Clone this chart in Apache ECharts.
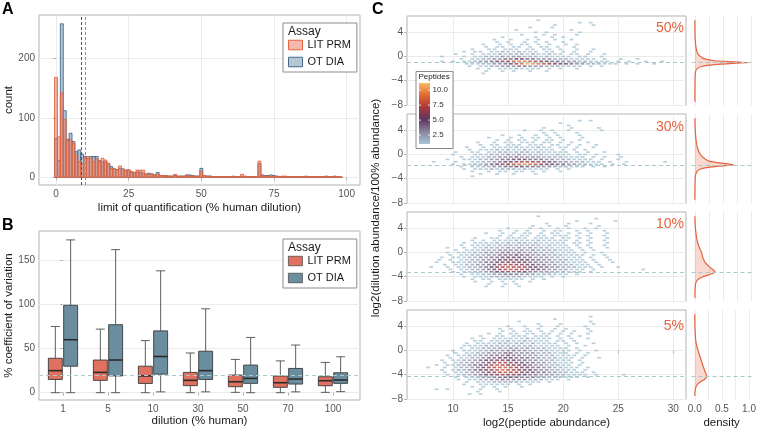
<!DOCTYPE html>
<html>
<head>
<meta charset="utf-8">
<style>
  html, body { margin: 0; padding: 0; background: #fff; }
  #chart { width: 759px; height: 431px; }
</style>
<script src="https://cdn.jsdelivr.net/npm/echarts@6/dist/echarts.min.js"></script>
</head>
<body>
<div id="chart"></div>
<script>
// ---- panel A: limit of quantification histogram (binwidth 1, bins 0..98)
var litPrmLoq = [168,68,142,97,62,63,57,37,26,22,32,35,32,26,31,26,32,29,24,15,15,12,19,14,12,13,10,8,12,12,
  12,6,5,6,4,5,3,3,3,2,2,5,2,2,2,3,2,2,2,2,10,3,2,2,1,1,1,1,1,1,1,2,1,1,5,2,1,1,1,1,
  27,3,2,2,2,2,1,1,2,2,1,1,1,1,1,1,2,1,1,1,1,1,1,1,1,1,1,1,1];
var otDiaLoq = [65,28,258,112,64,74,60,43,46,39,35,32,35,35,35,28,26,26,22,18,14,13,15,14,12,11,9,8,9,8,
  7,5,7,5,4,8,3,3,2,2,2,3,2,2,2,4,4,3,2,2,15,3,2,2,1,1,1,1,1,1,1,1,1,1,1,1,1,1,1,1,
  23,4,3,3,4,3,2,1,1,1,1,1,1,1,1,1,1,1,1,1,1,1,1,2,1,1,2,1,0];
var loqMedians = [8.8, 10.2]; // OT DIA, LIT PRM
var loqTicks = [0, 25, 50, 75, 100];
var countTicks = [0, 100, 200];

// ---- panel B: CV boxplots [low, q1, median, q3, high]
var dilutions = ['1', '5', '10', '30', '50', '70', '100'];
var litPrmCv = [[0,15,25,39,75],[0,14,23,37,72],[0,10.5,19,30,59],[0,8,14,23,45],[0.4,6.8,12.4,20,37.7],[0,6.1,11.3,18.9,36],[0.4,7.9,13.6,18.1,34.3]];
var otDiaCv = [[0,30,60,99,173],[0,19,37,77,162],[1,21,41,70,138],[1,15,25,47,95],[0,10.6,16.2,31.3,62.6],[1,9.8,15.5,27.5,54],[1.2,10.6,14.4,22.6,40.7]];
var cvTicks = [0, 50, 100, 150];
var cvTarget = 20;

// ---- panel C: hexbin counts, rows of [y, x0, count at x0, x0+0.5, x0+1, ...]
var hex50 = [
  [6.0, 17.5, 1],
  [5.6, 21.5, 1,0,1],
  [5.2, 19, 1,0,0,0,0,0,0,1],
  [4.8, 17, 1,0,0,0,1],
  [4.4, 15.5, 1,0,0,0,0,0,0,0,0,0,1],
  [4.0, 17.5, 1,0,1,0,0,0,0,0,1],
  [3.6, 16, 1,0,0,0,1,0,1,0,0,0,1],
  [3.2, 14.5, 1,0,0,0,0,0,1,0,0,1,0,1],
  [2.8, 13.5, 1,0,0,1,0,0,1,0,1,0,0,1,0,0,1],
  [2.4, 14, 1,0,1,0,0,1,0,1,0,1,0,0,1],
  [2.0, 12.5, 1,0,0,1,0,1,0,1,1,0,1,0,1,0,0,1,0,1],
  [1.6, 13, 1,0,1,1,0,1,1,0,1,0,1,1,0,1,0,0,1],
  [1.2, 11.5, 1,0,0,1,1,0,1,1,1,0,1,1,0,1,1,0,1,0,0,1,0,0,1],
  [0.8, 11, 1,0,1,1,0,1,1,2,1,1,2,1,1,1,0,1,1,0,1,0,1,0,0,1],
  [0.4, 10, 1,0,0,1,0,1,1,1,2,1,2,2,2,1,2,1,1,2,1,1,0,1,1,0,1,0,0,1],
  [0.0, 9, 1,0,0,0,1,0,1,1,2,2,2,3,2,3,3,2,2,2,1,2,1,1,1,1,0,1,1,0,0,1],
  [-0.4, 10.5, 1,0,1,1,2,2,3,3,4,4,5,5,4,4,3,3,3,2,2,2,1,1,1,1,1,0,1,0,0,1,0,0,1],
  [-0.8, 9, 1,0,1,0,1,1,2,3,3,4,5,6,7,8,9,9,8,7,6,5,4,4,3,3,3,2,2,1,1,1,1,0,1,0,1,0,0,1,0,0,1],
  [-1.2, 11, 1,1,1,2,2,3,3,4,5,7,9,11,10,9,8,7,6,5,5,4,3,3,2,2,2,1,1,1,0,1,0,1,0,0,1],
  [-1.6, 11.5, 1,0,1,1,2,2,3,3,3,4,4,3,3,3,2,2,2,1,1,1,1,0,1,0,1],
  [-2.0, 12, 1,0,1,0,1,1,1,2,1,1,1,1,0,1,0,1,0,0,1],
  [-2.4, 13, 1,0,0,1,0,1,0,0,1,0,0,1],
  [-2.8, 12.5, 1]
];
var hex30 = [
  [5.6, 21.5, 1,0,1],
  [5.2, 19.5, 1],
  [4.8, 20.5, 1],
  [4.4, 18, 1,0,0,0,0,1,0,0,0,0,1],
  [4.0, 16.5, 1,0,0,1,0,1,0,0,1,0,0,0,0,0,1],
  [3.6, 18, 1,0,1,0,0,0,1],
  [3.2, 14.5, 1,0,0,1,0,0,1,0,1,0,1,0,0,0,1],
  [2.8, 13, 1,0,0,0,1,0,1,0,1,1,0,1,0,1,0,0,0,1],
  [2.4, 14, 1,0,1,0,1,1,0,1,0,1,1,0,1,0,0,1],
  [2.0, 12, 1,0,0,1,0,1,1,0,1,1,1,0,1,1,0,1,0,1,0,0,1],
  [1.6, 12.5, 1,0,1,1,0,1,1,1,0,1,1,1,0,1,1,0,1,0,1,0,0,1],
  [1.2, 11, 1,0,0,1,0,1,1,1,1,2,1,1,1,2,1,1,0,1,1,0,1,0,0,1],
  [0.8, 11.5, 1,0,1,1,1,2,1,2,1,1,2,1,1,1,1,1,0,1,0,1,0,1],
  [0.4, 10, 1,0,0,1,1,0,1,1,2,2,1,2,2,2,1,2,1,1,1,1,1,0,1,0,1,0,0,1],
  [0.0, 10, 1,0,0,0,1,1,1,2,2,2,3,2,3,2,2,2,2,1,1,2,1,1,0,1,1,0,1,0,0,0,1],
  [-0.4, 10.5, 1,0,1,1,1,2,2,3,3,3,4,3,3,3,3,2,2,2,2,1,1,1,1,0,1,0,1,0,0,1],
  [-0.8, 9.5, 1,0,0,1,1,1,2,2,3,3,4,4,5,5,5,4,4,4,3,3,2,2,2,1,1,1,1,0,1,0,0,1],
  [-1.2, 8, 1,0,0,0,1,0,0,1,1,2,2,3,4,5,5,6,7,7,6,6,5,5,4,3,3,2,2,2,1,1,1,0,1,0,0,1,0,0,0,0,0,0,1],
  [-1.6, 10, 1,0,1,1,2,2,3,4,5,6,7,8,9,10,9,8,7,6,5,4,4,3,3,2,2,1,1,1,0,1,0,1],
  [-2.0, 10.5, 1,0,1,1,2,2,3,3,4,4,5,5,4,4,4,3,3,2,2,2,1,1,1,0,1,0,1],
  [-2.4, 11, 1,0,1,1,1,2,1,2,2,2,1,2,1,1,1,1,0,1,0,1],
  [-2.8, 11.5, 1,0,0,1,0,1,1,0,1,1,0,1,0,1,0,0,1],
  [-3.2, 12.5, 1,0,0,1,0,0,1,0,0,0,1],
  [-3.6, 11.5, 1]
];
var hex10 = [
  [6.0, 17.5, 1],
  [5.6, 23, 1],
  [5.2, 21, 1,0,0,0,0,0,0,1],
  [4.8, 18.5, 1,0,0,0,1,0,0,0,1],
  [4.4, 17, 1,0,0,1,0,0,1,0,0,0,0,0,1],
  [4.0, 15, 1,0,0,0,1,0,1,0,0,1,0,1,0,0,1,0,1],
  [3.6, 14, 1,0,0,1,0,1,0,0,1,0,1,1,0,0,1,0,1,0,0,1],
  [3.2, 13, 1,0,0,1,0,1,0,1,1,0,1,0,1,1,0,1,0,1,0,1,0,0,1],
  [2.8, 14, 1,0,1,0,1,1,0,1,1,0,1,1,1,0,1,0,1,0,0,1],
  [2.4, 12, 1,0,0,1,1,0,1,1,1,1,0,1,1,1,1,0,1,1,0,1,0,1,0,0,1],
  [2.0, 11.5, 1,0,1,0,1,1,1,1,2,1,1,1,2,1,1,1,1,1,0,1,0,1,0,0,1],
  [1.6, 11, 1,0,1,1,1,1,2,1,2,1,2,2,1,2,1,1,1,1,1,0,1,1,0,1,0,0,1],
  [1.2, 10.5, 1,0,1,1,1,2,1,2,2,2,2,2,2,2,2,1,2,1,1,1,0,1,0,1,0,0,1],
  [0.8, 9.5, 1,0,0,1,0,1,1,2,2,2,2,3,2,3,2,3,2,2,2,1,1,1,1,0,1,0,1,0,0,1],
  [0.4, 10, 1,0,1,1,1,2,2,2,3,3,3,3,3,2,3,2,2,2,2,1,1,1,0,1,0,1],
  [0.0, 9.5, 1,0,1,1,1,2,2,3,3,3,4,4,3,4,3,3,3,2,2,2,1,1,1,1,0,1,0,0,1],
  [-0.4, 9.5, 1,0,1,1,2,2,2,3,3,4,4,4,5,4,4,3,3,3,2,2,2,1,1,1,1,0,1,0,1],
  [-0.8, 9, 1,0,1,1,1,2,2,3,3,4,4,5,5,5,5,4,4,3,3,3,2,2,1,1,1,1,0,1,0,0,1],
  [-1.2, 8.5, 1,0,1,0,1,1,2,2,3,3,4,5,5,6,5,5,5,4,4,3,3,2,2,2,1,1,1,0,1,0,0,1],
  [-1.6, 8.5, 1,0,0,1,1,1,2,2,3,4,4,5,6,6,6,5,5,4,4,3,3,3,2,2,1,1,1,1,0,1,0,0,1],
  [-2.0, 9, 1,0,1,1,2,2,3,3,4,5,6,7,7,6,6,5,5,4,4,3,3,2,2,2,1,1,1,0,1],
  [-2.4, 8, 1,0,0,1,0,1,1,2,2,3,4,5,6,7,8,7,7,6,5,5,4,4,3,3,2,2,2,1,1,1,0,1,0,0,1],
  [-2.8, 9.5, 1,0,1,1,2,2,3,4,5,6,7,8,7,7,6,5,5,4,3,3,2,2,1,1,1,0,1,0,0,0,0,0,0,0,0,1],
  [-3.2, 10, 1,0,1,1,2,2,3,4,5,5,6,6,5,5,4,4,3,3,2,2,2,1,1,1,0,1],
  [-3.6, 10.5, 1,0,1,1,2,2,3,3,4,4,4,3,3,3,2,2,2,1,1,1,0,1],
  [-4.0, 11, 1,0,1,1,1,2,2,2,2,2,2,1,1,1,1,0,1,0,1],
  [-4.4, 11.5, 1,0,1,1,0,1,1,1,1,1,0,1,0,1],
  [-4.8, 12, 1,0,0,1,0,1,0,1,0,0,1],
  [-5.2, 13, 1,0,0,1,0,1],
  [-5.6, 13, 1,0,0,1,0,0,1]
];
var hex5 = [
  [5.6, 22.5, 1],
  [5.2, 19, 1],
  [4.8, 16, 1,0,0,0,0,0,0,0,0,0,0,0,0,1],
  [4.4, 17.5, 1,0,0,0,1,0,0,0,0,0,1],
  [4.0, 15, 1,0,0,1,0,0,1,0,0,1,0,0,0,0,1],
  [3.6, 14, 1,0,1,0,0,1,0,1,0,0,1,0,1,0,0,0,1],
  [3.2, 14.5, 1,0,1,0,1,1,0,1,0,1,0,1,0,1,0,0,1],
  [2.8, 13, 1,0,1,0,1,1,0,1,1,0,1,1,0,1,0,1,0,0,1],
  [2.4, 12.5, 1,0,0,1,1,0,1,1,1,0,1,1,1,0,1,0,1,0,1],
  [2.0, 11.5, 1,0,1,0,1,1,1,1,1,1,2,1,1,1,1,0,1,0,1,0,0,1],
  [1.6, 12, 1,1,0,1,1,1,2,1,1,2,1,1,1,1,0,1,1,0,1],
  [1.2, 11, 1,0,1,1,1,1,2,2,1,2,2,1,2,1,1,1,1,0,1,0,1,0,0,1],
  [0.8, 11, 1,1,1,1,2,2,2,2,2,2,2,2,2,1,1,1,1,1,0,1,0,0,1],
  [0.4, 10.5, 1,0,1,1,2,2,2,3,2,3,3,2,3,2,2,2,1,1,1,1,0,1],
  [0.0, 10, 1,0,1,1,1,2,2,3,3,3,3,4,3,3,2,2,2,2,1,1,1,1,0,1,0,0,1],
  [-0.4, 10, 1,0,1,1,2,2,3,3,3,4,4,3,3,3,3,2,2,2,1,1,1,0,1,0,1],
  [-0.8, 9.5, 1,0,1,1,2,2,3,3,4,4,4,5,4,4,3,3,3,2,2,2,1,1,1,1,0,1],
  [-1.2, 9.5, 1,0,1,1,2,2,3,4,4,5,5,5,4,4,4,3,3,2,2,2,1,1,1,0,1,0,0,1],
  [-1.6, 9, 1,0,1,1,2,2,3,4,5,6,6,6,5,5,4,4,3,3,2,2,2,1,1,1,0,1],
  [-2.0, 9, 1,0,1,2,2,3,3,4,5,6,7,7,6,5,5,4,4,3,3,2,2,1,1,1,0,1],
  [-2.4, 8.5, 1,0,1,1,2,2,3,4,5,6,7,8,7,6,6,5,5,4,3,3,2,2,2,1,1,0,1],
  [-2.8, 7.5, 1,0,0,1,0,1,2,2,3,4,5,6,7,8,8,7,6,6,5,4,4,3,3,2,2,1,1,1,0,1],
  [-3.2, 9, 1,0,1,2,2,3,4,5,6,7,8,9,8,7,6,5,5,4,3,3,2,2,1,1,1,0,1],
  [-3.6, 9, 1,0,1,1,2,3,3,4,5,6,7,8,7,7,6,5,5,4,4,3,3,2,2,1,1,1,0,1],
  [-4.0, 9.5, 1,0,1,2,2,3,4,5,6,6,7,6,6,5,5,4,4,3,3,3,2,2,1,1,1,1,0,1,0,0,0,0,1],
  [-4.4, 10, 1,0,1,1,2,3,3,4,5,5,5,5,4,4,4,3,3,2,2,2,1,1,1,0,1],
  [-4.8, 10.5, 1,0,1,1,2,2,3,3,4,3,3,3,3,2,2,2,1,1,1,0,1],
  [-5.2, 11, 1,0,1,1,1,2,2,2,2,2,1,1,1,1,0,1],
  [-5.6, 11, 1,0,0,1,1,1,1,1,1,0,1,0,1],
  [-6.0, 11.5, 1,0,1,0,1,0,1,0,0,1],
  [-6.4, 8.5, 1,0,1,0,0,0,0,0,1,0,0,1],
  [-6.8, 12, 1,0,0,0,1],
  [-7.2, 11.5, 1,0,1]
];
// density curves, [density, log2 ratio]
var dens50 = [[0,6.0],[0.005,3.0],[0.02,1.5],[0.05,0.5],[0.1,0.0],[0.17,-0.4],[0.35,-0.7],[0.7,-0.88],[0.93,-1.0],[0.75,-1.1],[0.35,-1.35],[0.12,-1.65],[0.04,-2.0],[0.01,-2.6],[0.003,-4.0],[0,-7.5]];
var dens30 = [[0,6.0],[0.01,3.5],[0.03,1.8],[0.06,0.7],[0.1,0.0],[0.15,-0.5],[0.25,-1.1],[0.5,-1.45],[0.68,-1.7],[0.55,-1.85],[0.3,-2.05],[0.1,-2.4],[0.04,-2.8],[0.01,-3.5],[0.002,-5.0],[0,-7.5]];
var dens10 = [[0,6.0],[0.01,4.0],[0.04,2.0],[0.08,0.8],[0.12,0.0],[0.14,-0.8],[0.18,-1.6],[0.25,-2.3],[0.33,-2.9],[0.36,-3.2],[0.28,-3.6],[0.12,-4.1],[0.04,-4.6],[0.01,-5.3],[0.002,-6.5],[0,-7.5]];
var dens5 = [[0,6.0],[0.005,3.5],[0.02,1.5],[0.05,0.3],[0.08,-0.5],[0.11,-1.4],[0.14,-2.2],[0.17,-3.0],[0.2,-3.7],[0.22,-4.2],[0.19,-4.7],[0.1,-5.2],[0.04,-5.7],[0.01,-6.4],[0,-7.5]];
var dilutionLabels = ['50%', '30%', '10%', '5%'];
var dilutionLevels = [0.5, 0.3, 0.1, 0.05];
var abundanceTicks = [10, 15, 20, 25, 30];
var ratioTicks = [-8, -4, 0, 4];
var densityGrid = [0, 0.25, 0.5, 0.75, 1];
var densityTicks = [0, 0.5, 1];
var peptideTicks = [2.5, 5, 7.5, 10];

var font = 'Liberation Sans, Arial, sans-serif';
var hexColors = ['#A9C5D5', '#8A86A0', '#5E3660', '#A8383A', '#E06A32', '#FBBA60'];
var orange = '#E3643F', slate = '#44698A';
var tickStyle = { show: true, length: 3, lineStyle: { color: '#B3B3B3' } };
var labelStyle = { color: '#555', fontSize: 10, fontFamily: font };
var nameStyle = { color: '#1A1A1A', fontSize: 11.5, fontFamily: font };
var splitStyle = { show: true, lineStyle: { color: '#EBEBEB', width: 1 } };
var frame = { show: true, borderColor: '#B3B3B3', borderWidth: 1, backgroundColor: '#fff' };
var cTops = [16, 114, 212, 310];

// hex grid: every other row is shifted by half a column
function hexPoints(rows) {
  var pts = [];
  rows.forEach(function (r) {
    var shift = Math.abs(Math.round(r[0] / 0.4)) % 2 ? 0.25 : 0;
    for (var i = 2; i < r.length; i++) {
      if (r[i] > 0) pts.push([r[1] + (i - 2) * 0.5 + shift, r[0], r[i]]);
    }
  });
  return pts;
}

function histItem(fill, stroke) {
  return function (params, api) {
    var x = api.value(0), c = api.value(1);
    var p0 = api.coord([x - 0.5, c]);
    var p1 = api.coord([x + 0.5, 0]);
    return {
      type: 'rect',
      shape: { x: p0[0], y: p0[1], width: p1[0] - p0[0], height: p1[1] - p0[1] },
      style: { fill: fill, stroke: stroke, lineWidth: 0.9 }
    };
  };
}

function boxItem(offset, fill) {
  return function (params, api) {
    var cx = api.value(0) + offset;
    var lo = api.coord([cx, api.value(1)]), q1 = api.coord([cx - 0.155, api.value(2)]);
    var md = api.coord([cx, api.value(3)]), q3 = api.coord([cx + 0.155, api.value(4)]);
    var hi = api.coord([cx, api.value(5)]);
    var cap = api.coord([cx + 0.1, 0])[0] - lo[0];
    var line = { stroke: '#4D4D4D', lineWidth: 0.9 };
    return {
      type: 'group',
      children: [
        { type: 'line', shape: { x1: lo[0], y1: lo[1], x2: lo[0], y2: q1[1] }, style: line },
        { type: 'line', shape: { x1: hi[0], y1: hi[1], x2: hi[0], y2: q3[1] }, style: line },
        { type: 'line', shape: { x1: lo[0] - cap, y1: lo[1], x2: lo[0] + cap, y2: lo[1] }, style: line },
        { type: 'line', shape: { x1: hi[0] - cap, y1: hi[1], x2: hi[0] + cap, y2: hi[1] }, style: line },
        { type: 'rect', shape: { x: q1[0], y: q3[1], width: q3[0] - q1[0], height: q1[1] - q3[1] },
          style: { fill: fill, stroke: '#3A3A3A', lineWidth: 0.9 } },
        { type: 'line', shape: { x1: q1[0], y1: md[1], x2: q3[0], y2: md[1] },
          style: { stroke: '#2B2B2B', lineWidth: 1.6 } }
      ]
    };
  };
}

function densItem(points) {
  return function (params, api) {
    if (params.dataIndex !== 0) return;
    var pts = points.map(function (p) { return api.coord(p); });
    return {
      type: 'group',
      children: [
        { type: 'polygon', shape: { points: pts }, style: { fill: 'rgba(227,100,63,0.25)' } },
        { type: 'polyline', shape: { points: pts, smooth: 0.2 }, style: { fill: 'none', stroke: orange, lineWidth: 1.2 } }
      ]
    };
  };
}

function minus(v) { return v < 0 ? '\u2212' + Math.abs(v) : String(v); }

var grids = [
  Object.assign({ left: 39, top: 15, width: 321, height: 170 }, frame),
  Object.assign({ left: 39, top: 231, width: 321, height: 169 }, frame)
];
cTops.forEach(function (t) { grids.push(Object.assign({ left: 407, top: t, width: 279, height: 89.5 }, frame)); });
cTops.forEach(function (t) { grids.push({ left: 691.5, top: t, width: 62.3, height: 89.5, show: false }); });

var xAxes = [
  { gridIndex: 0, type: 'value', min: -5.85, max: 104.6, axisLine: { show: false },
    axisTick: Object.assign({ customValues: loqTicks }, tickStyle),
    axisLabel: Object.assign({ customValues: loqTicks, margin: 4 }, labelStyle),
    splitLine: splitStyle,
    name: 'limit of quantification (% human dilution)', nameLocation: 'middle', nameGap: 17, nameTextStyle: nameStyle },
  { gridIndex: 1, type: 'value', min: -0.533, max: 6.6, axisLine: { show: false },
    axisTick: Object.assign({ customValues: [0, 1, 2, 3, 4, 5, 6] }, tickStyle),
    axisLabel: Object.assign({ customValues: [0, 1, 2, 3, 4, 5, 6], margin: 4,
      formatter: function (v) { return dilutions[v]; } }, labelStyle),
    splitLine: { show: false },
    name: 'dilution (% human)', nameLocation: 'middle', nameGap: 14, nameTextStyle: nameStyle }
];
var yAxes = [
  { gridIndex: 0, type: 'value', min: -12.9, max: 272.8, axisLine: { show: false },
    axisTick: Object.assign({ customValues: countTicks }, tickStyle),
    axisLabel: Object.assign({ customValues: countTicks, margin: 4 }, labelStyle),
    splitLine: splitStyle,
    name: 'count', nameLocation: 'middle', nameGap: 24, nameTextStyle: nameStyle },
  { gridIndex: 1, type: 'value', min: -8.25, max: 183.1, axisLine: { show: false },
    axisTick: Object.assign({ customValues: cvTicks }, tickStyle),
    axisLabel: Object.assign({ customValues: cvTicks, margin: 4 }, labelStyle),
    splitLine: splitStyle,
    name: '% coefficient of variation', nameLocation: 'middle', nameGap: 24, nameTextStyle: nameStyle }
];
for (var r = 0; r < 4; r++) {
  var last = r === 3;
  xAxes.push({ gridIndex: 2 + r, type: 'value', min: 5.82, max: 31.15, axisLine: { show: false },
    axisTick: Object.assign({ customValues: abundanceTicks }, tickStyle, { show: last }),
    axisLabel: Object.assign({ customValues: abundanceTicks, margin: 5 }, labelStyle, { show: last }),
    splitLine: splitStyle,
    name: last ? 'log2(peptide abundance)' : '', nameLocation: 'middle', nameGap: 17, nameTextStyle: nameStyle });
  yAxes.push({ gridIndex: 2 + r, type: 'value', min: -8.1, max: 6.7, axisLine: { show: false },
    axisTick: Object.assign({ customValues: ratioTicks }, tickStyle),
    axisLabel: Object.assign({ customValues: ratioTicks, margin: 4, formatter: minus }, labelStyle),
    splitLine: splitStyle });
}
for (var r = 0; r < 4; r++) {
  var last = r === 3;
  xAxes.push({ gridIndex: 6 + r, type: 'value', min: -0.06, max: 1.05, axisLine: { show: false },
    axisTick: Object.assign({ customValues: densityGrid }, tickStyle, { show: false }),
    axisLabel: Object.assign({ customValues: densityTicks, margin: 5,
      formatter: function (v) { return v.toFixed(1); } }, labelStyle, { show: last }),
    splitLine: splitStyle,
    name: last ? 'density' : '', nameLocation: 'middle', nameGap: 17, nameTextStyle: nameStyle });
  yAxes.push({ gridIndex: 6 + r, type: 'value', min: -8.1, max: 6.7, show: false });
}

var series = [
  { name: 'OT DIA', type: 'custom', xAxisIndex: 0, yAxisIndex: 0, z: 2,
    itemStyle: { color: 'rgba(110,143,168,0.5)' },
    renderItem: histItem('rgba(110,143,168,0.5)', slate),
    data: otDiaLoq.map(function (c, i) { return [i, c]; }) },
  { name: 'LIT PRM', type: 'custom', xAxisIndex: 0, yAxisIndex: 0, z: 3,
    itemStyle: { color: 'rgba(232,115,90,0.5)' },
    renderItem: histItem('rgba(232,115,90,0.5)', orange),
    data: litPrmLoq.map(function (c, i) { return [i, c]; }),
    markLine: { silent: true, symbol: 'none', label: { show: false },
      data: [
        { xAxis: loqMedians[0], lineStyle: { color: '#3D5A73', type: [3, 2], width: 1 } },
        { xAxis: loqMedians[1], lineStyle: { color: '#E8745A', type: [3, 2], width: 1 } }
      ] } },
  { type: 'line', xAxisIndex: 1, yAxisIndex: 1, data: [], z: 1,
    markLine: { silent: true, symbol: 'none', label: { show: false },
      lineStyle: { color: '#A9CBC9', type: [4, 3], width: 1 }, data: [{ yAxis: cvTarget }] } },
  { name: 'LIT PRM', type: 'custom', xAxisIndex: 1, yAxisIndex: 1, z: 3,
    itemStyle: { color: '#E07060' }, renderItem: boxItem(-0.17, '#E07060'),
    data: litPrmCv.map(function (b, i) { return [i].concat(b); }) },
  { name: 'OT DIA', type: 'custom', xAxisIndex: 1, yAxisIndex: 1, z: 3,
    itemStyle: { color: '#6A8EA0' }, renderItem: boxItem(0.17, '#6A8EA0'),
    data: otDiaCv.map(function (b, i) { return [i].concat(b); }) }
];
var hexSets = [hex50, hex30, hex10, hex5];
var densSets = [dens50, dens30, dens10, dens5];
var hexSeriesIdx = [];
for (var r = 0; r < 4; r++) {
  var ref = Math.log2(dilutionLevels[r]);
  series.push({ type: 'line', xAxisIndex: 2 + r, yAxisIndex: 2 + r, data: [], z: 1,
    markLine: { silent: true, symbol: 'none', label: { show: false },
      lineStyle: { color: '#A9C9C9', type: [4, 3], width: 1 }, data: [{ yAxis: ref }] } });
  hexSeriesIdx.push(series.length);
  series.push({ type: 'scatter', xAxisIndex: 2 + r, yAxisIndex: 2 + r, z: 2,
    symbol: 'rect', symbolSize: [3.8, 1.7], data: hexPoints(hexSets[r]) });
  series.push({ type: 'custom', xAxisIndex: 6 + r, yAxisIndex: 6 + r, z: 2,
    renderItem: densItem(densSets[r]), data: densSets[r],
    markLine: { silent: true, symbol: 'none', label: { show: false },
      lineStyle: { color: '#A9C9C9', type: [4, 3], width: 1 }, data: [{ yAxis: ref }] } });
}

var legendBase = { orient: 'vertical', left: 283, itemWidth: 14, itemHeight: 9.5, itemGap: 3,
  padding: [15, 6, 3, 5], borderColor: '#8C8C8C', borderWidth: 1, backgroundColor: '#fff',
  textStyle: { fontSize: 11, lineHeight: 14, color: '#1A1A1A', fontFamily: font }, selectedMode: false };

var graphics = [
  { type: 'text', left: 2, top: 2, style: { text: 'A', font: 'bold 16px ' + font, fill: '#000' } },
  { type: 'text', left: 2, top: 218, style: { text: 'B', font: 'bold 16px ' + font, fill: '#000' } },
  { type: 'text', left: 372, top: 2, style: { text: 'C', font: 'bold 16px ' + font, fill: '#000' } },
  { type: 'text', left: 288, top: 26, z: 20, style: { text: 'Assay', font: '12px ' + font, fill: '#1A1A1A' } },
  { type: 'text', left: 288, top: 242, z: 20, style: { text: 'Assay', font: '12px ' + font, fill: '#1A1A1A' } },
  { type: 'text', x: 376, y: 208, rotation: Math.PI / 2,
    style: { text: 'log2(dilution abundance/100% abundance)', font: '11.5px ' + font, fill: '#1A1A1A',
      align: 'center', verticalAlign: 'middle' } }
];
var labelY = [28, 127, 224, 326];
dilutionLabels.forEach(function (t, i) {
  graphics.push({ type: 'text', x: 684, y: labelY[i], z: 20,
    style: { text: t, font: '14px ' + font, fill: orange, align: 'right', verticalAlign: 'middle' } });
});
// Peptides colour bar legend
var barTop = 83, barH = 61, pepMin = 1, pepMax = 11.2;
var stops = hexColors.map(function (c, i) { return { offset: i / (hexColors.length - 1), color: c }; });
graphics.push({ type: 'rect', z: 20, shape: { x: 416, y: 71.5, width: 37, height: 77 },
  style: { fill: '#fff', stroke: '#8C8C8C', lineWidth: 1 } });
graphics.push({ type: 'text', z: 21, x: 418.5, y: 77,
  style: { text: 'Peptides', font: '8px ' + font, fill: '#1A1A1A', verticalAlign: 'middle' } });
graphics.push({ type: 'rect', z: 21, shape: { x: 419, y: barTop, width: 11, height: barH },
  style: { fill: { type: 'linear', x: 0, y: 1, x2: 0, y2: 0, colorStops: stops } } });
peptideTicks.forEach(function (v) {
  var y = barTop + barH - (v - pepMin) / (pepMax - pepMin) * barH;
  graphics.push({ type: 'line', z: 22, shape: { x1: 419, y1: y, x2: 421, y2: y }, style: { stroke: '#fff', lineWidth: 0.8 } });
  graphics.push({ type: 'line', z: 22, shape: { x1: 428, y1: y, x2: 430, y2: y }, style: { stroke: '#fff', lineWidth: 0.8 } });
  graphics.push({ type: 'text', z: 21, x: 432.5, y: y,
    style: { text: v.toFixed(1), font: '8px ' + font, fill: '#333', verticalAlign: 'middle' } });
});

var chart = echarts.init(document.getElementById('chart'));
chart.setOption({
  animation: false,
  backgroundColor: '#fff',
  grid: grids,
  xAxis: xAxes,
  yAxis: yAxes,
  visualMap: { show: false, type: 'continuous', min: pepMin, max: pepMax, dimension: 2,
    seriesIndex: hexSeriesIdx, inRange: { color: hexColors } },
  legend: [
    Object.assign({ top: 23, data: [
      { name: 'LIT PRM', icon: 'rect', itemStyle: { color: 'rgba(232,115,90,0.5)', borderColor: orange, borderWidth: 1 } },
      { name: 'OT DIA', icon: 'rect', itemStyle: { color: 'rgba(110,143,168,0.5)', borderColor: slate, borderWidth: 1 } }
    ] }, legendBase),
    Object.assign({ top: 239, data: [
      { name: 'LIT PRM', icon: 'rect', itemStyle: { color: '#E07060', borderColor: '#4D4D4D', borderWidth: 0.8 } },
      { name: 'OT DIA', icon: 'rect', itemStyle: { color: '#6A8EA0', borderColor: '#4D4D4D', borderWidth: 0.8 } }
    ] }, legendBase)
  ],
  graphic: graphics,
  series: series
});
</script>
</body>
</html>
